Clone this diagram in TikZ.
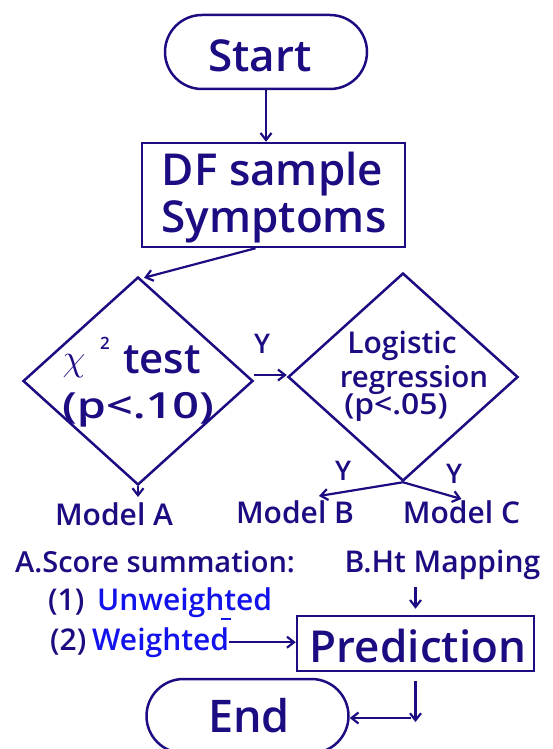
\documentclass[tikz,border=0pt]{standalone}
\usepackage{fontspec}
\setmainfont{Open Sans Semibold}
\usetikzlibrary{shapes.geometric,arrows.meta}
\definecolor{navy}{RGB}{28,12,130}
\definecolor{bluetxt}{RGB}{18,18,235}
\newcommand\myfs[1]{\fontsize{#1}{#1}\selectfont}
\begin{document}
\begin{tikzpicture}[x=1pt,y=-1pt,color=navy,
  arr/.style={-{Straight Barb[length=7pt,width=11pt]}, line width=2.2pt},
  txt/.style={inner sep=0pt, anchor=base, text=navy},
  btxt/.style={inner sep=0pt, anchor=base west, text=bluetxt},
  box/.style={draw=navy, line width=2.5pt, inner sep=0pt},
  stadium/.style={box, rectangle, rounded corners=37pt, minimum width=202pt, minimum height=74pt},
  dia/.style={box, diamond, minimum width=230pt, minimum height=208pt},
]
\useasboundingbox (0,0) rectangle (553,749);

% shapes
\node[stadium] (start) at (266,52) {};
\node[box, rectangle, minimum width=263pt, minimum height=104pt] (df) at (273.5,195) {};
\node[dia] (d1) at (138,381) {};
\node[dia] (d2) at (403,377) {};
\node[box, rectangle, minimum width=237pt, minimum height=55pt] (pred) at (415.5,643.5) {};
\node[stadium] (end) at (247.5,716) {};

% texts
\node[txt] (tstart) at (260,72) {\myfs{44}Start};
\node[txt] (tdf1) at (272.5,185) {\myfs{44}DF sample};
\node[txt] (tdf2) at (274,232) {\myfs{44}Symptoms};
\node[txt] (tchi) at (74,370) {\myfs{42}\scalebox{1.5}{$\chi$}};
\node[txt] (tsq) at (105,349) {\myfs{17}2};
\node[txt] (ttest) at (162,373) {\myfs{42}test};
\node[txt] (tp1) at (138,418) {\myfs{36}\scalebox{1.3}[1]{(p<.10)}};
\node[txt] (tlog1) at (402,353) {\myfs{30}Logistic};
\node[txt] (tlog2) at (414,387) {\myfs{29.5}regression};
\node[txt] (tlog3) at (396,414) {\myfs{29}\scalebox{1.1}[1]{(p<.05)}};
\node[txt] (y1) at (262,353) {\myfs{27}Y};
\node[txt] (y2) at (343,480) {\myfs{27}Y};
\node[txt] (y3) at (454,483) {\myfs{27}Y};
\node[txt] (mA) at (114,525) {\myfs{30}Model A};
\node[txt] (mB) at (295,523) {\myfs{30}Model B};
\node[txt] (mC) at (461.5,523) {\myfs{30}Model C};
\node[txt, anchor=base west] (score) at (15,572) {\myfs{29}A.Score summation:};
\node[txt] (map) at (442.5,572) {\myfs{30}B.Ht Mapping};
\node[txt, anchor=base west] (n1) at (48,610) {\myfs{30}(1)};
\node[btxt] (uw) at (97,610) {\myfs{30}Unweighted};
\node[txt, anchor=base west] (n2) at (50,650) {\myfs{30}(2)};
\node[btxt] (wt) at (92,650) {\myfs{30}Weighted};
\node[txt] (tpred) at (418,662) {\myfs{44}Prediction};
\node[txt] (tend) at (249,732) {\myfs{45}End};

% small mark under Unweighted
\draw[bluetxt, line width=1.5pt] (221,619) -- (231,619);

% connectors
\draw[arr] (start.south) -- (start.south |- df.north);
\draw[arr] ([xshift=-18pt]df.south) -- ([xshift=6pt,yshift=-2pt]d1.north);
\draw[arr] ([yshift=6pt]d1.east) -- ([yshift=2pt]d2.west);
\draw[arr] (d1.south) -- ([yshift=5pt]d1.south |- mA.north);
\draw[arr] (d2.south) -- ([xshift=24pt,yshift=4pt]mB.north);
\draw[arr] (d2.south) -- ([yshift=1pt]mC.north);
\draw[arr] ([yshift=-8pt]map.south -| pred.north) -- ([yshift=6pt]pred.north);
\draw[arr] (wt.east) -- (wt.east -| pred.west);
\coordinate (corner) at ([yshift=-2pt]pred.south |- end.east);
\draw[arr] ([yshift=-9pt]pred.south) -- ([yshift=-4pt]corner);
\draw[arr] ([xshift=-5pt]corner) -- ([yshift=-2pt]end.east);
\end{tikzpicture}
\end{document}
